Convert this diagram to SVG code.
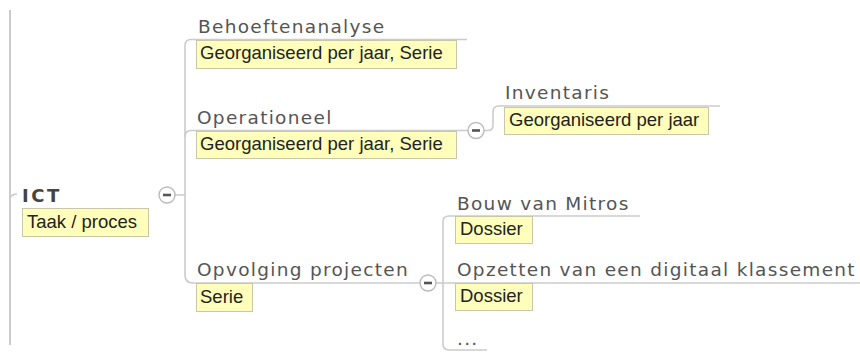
<svg xmlns="http://www.w3.org/2000/svg" width="860" height="359" viewBox="0 0 860 359">
<defs>
<style>
.ln{fill:none;stroke:#cbcbcb;stroke-width:1.6}
.t{font-family:"DejaVu Sans",Verdana,sans-serif;font-size:18.5px;letter-spacing:1.3px;fill:#555}
.b{font-family:"DejaVu Sans",Verdana,sans-serif;font-size:18px;font-weight:bold;letter-spacing:2.5px;fill:#444}
.box{fill:#ffffbb;stroke:#c8c8a8;stroke-width:1}
.bt{font-family:"Liberation Sans",Arial,sans-serif;font-size:18.5px;fill:#222}
.cc{fill:#fff;stroke:#bcbcbc;stroke-width:1.4}
.mn{stroke:#555;stroke-width:2.6}
</style>
<g id="collapse"><circle class="cc" cx="0" cy="0" r="8"/><line class="mn" x1="-4" y1="0" x2="4" y2="0"/></g>
</defs>
<g id="connectors">
<line class="ln" x1="10" y1="10" x2="10" y2="345" style="stroke-width:2"/>
<path class="ln" d="M10,198 Q12,194 17,194"/>
<line class="ln" x1="175" y1="195" x2="185" y2="195"/>
<path class="ln" d="M185,275 L185,46 Q185,39.5 191,39.5 L467,39.5"/>
<path class="ln" d="M185,137 Q185,130.5 191,130.5 L468,130.5"/>
<path class="ln" d="M185,275 Q185,283 193,283 L420,283"/>
<path class="ln" d="M484,130.5 L488,130.5 Q493,130.5 493,125 L493,112 Q493,106 499,106 L720,106"/>
<line class="ln" x1="436" y1="283" x2="443" y2="283"/>
<path class="ln" d="M443,344 L443,222 Q443,216 449,216 L640,216"/>
<line class="ln" x1="443" y1="283" x2="860" y2="283"/>
<path class="ln" d="M443,344 Q443,350 449,350 L487,350"/>
</g>
<g id="ict">
<text class="b" x="22" y="202">ICT</text>
<rect class="box" x="22.5" y="208.5" width="126" height="28"/>
<text class="bt" x="27" y="228">Taak / proces</text>
<use href="#collapse" x="167" y="195"/>
</g>
<g id="behoeftenanalyse">
<text class="t" x="198" y="33">Behoeftenanalyse</text>
<rect class="box" x="196.5" y="40.5" width="260" height="28"/>
<text class="bt" x="200" y="59">Georganiseerd per jaar, Serie</text>
</g>
<g id="operationeel">
<text class="t" x="197" y="124">Operationeel</text>
<rect class="box" x="196.5" y="131.5" width="260" height="27"/>
<text class="bt" x="200" y="150">Georganiseerd per jaar, Serie</text>
<use href="#collapse" x="476" y="130.5"/>
</g>
<g id="inventaris">
<text class="t" x="505" y="99">Inventaris</text>
<rect class="box" x="504.5" y="107.5" width="204" height="27"/>
<text class="bt" x="509" y="126">Georganiseerd per jaar</text>
</g>
<g id="opvolging">
<text class="t" x="197" y="276">Opvolging projecten</text>
<rect class="box" x="196.5" y="283.5" width="56" height="28"/>
<text class="bt" x="200" y="303">Serie</text>
<use href="#collapse" x="428" y="283"/>
</g>
<g id="bouw">
<text class="t" x="457" y="210">Bouw van Mitros</text>
<rect class="box" x="455.5" y="216.5" width="77" height="27"/>
<text class="bt" x="460" y="235">Dossier</text>
</g>
<g id="opzetten">
<text class="t" x="457" y="276">Opzetten van een digitaal klassement</text>
<rect class="box" x="455.5" y="283.5" width="77" height="27"/>
<text class="bt" x="460" y="302">Dossier</text>
</g>
<g id="more">
<text class="t" x="457" y="345">...</text>
</g>
</svg>
